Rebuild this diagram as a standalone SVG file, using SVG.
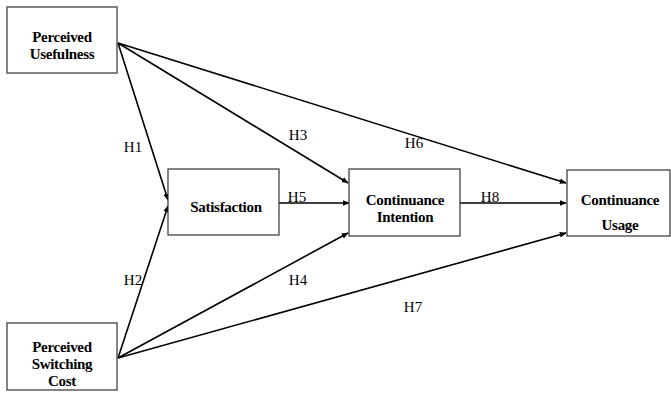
<svg xmlns="http://www.w3.org/2000/svg" width="671" height="393" viewBox="0 0 671 393">
<style>
.box{fill:#fff;stroke:#333;stroke-width:1.2}
.t{font-family:"Liberation Serif","Times New Roman",serif;font-size:15px;font-weight:bold;fill:#000;text-anchor:middle;letter-spacing:-0.3px}
.lbl{font-family:"Liberation Serif","Times New Roman",serif;font-size:15px;fill:#000;text-anchor:middle}
.c{stroke:#000;stroke-width:1.6;fill:none;marker-end:url(#ah)}
</style>
<defs>
<marker id="ah" viewBox="0 0 10 10" refX="9" refY="5" markerWidth="7" markerHeight="7" markerUnits="userSpaceOnUse" orient="auto">
<path d="M0,1 L10,5 L0,9 z" fill="#000"/>
</marker>
</defs>
<g id="connectors">
<line class="c" x1="118" y1="43" x2="168" y2="200"/>
<line class="c" x1="118" y1="358" x2="168" y2="206"/>
<line class="c" x1="118" y1="43" x2="348" y2="183"/>
<line class="c" x1="118" y1="43" x2="566" y2="183"/>
<line class="c" x1="279" y1="203" x2="349" y2="203"/>
<line class="c" x1="460" y1="203" x2="566" y2="203"/>
<line class="c" x1="118" y1="358" x2="348" y2="233"/>
<line class="c" x1="118" y1="358" x2="566" y2="233"/>
<text class="lbl" x="133" y="152">H1</text>
<text class="lbl" x="133" y="285">H2</text>
<text class="lbl" x="298" y="140">H3</text>
<text class="lbl" x="298" y="285">H4</text>
<text class="lbl" x="297" y="202">H5</text>
<text class="lbl" x="414" y="148">H6</text>
<text class="lbl" x="413" y="312">H7</text>
<text class="lbl" x="490" y="202">H8</text>
</g>
<g id="pu">
<rect class="box" x="7" y="7" width="110" height="66"/>
<text class="t" x="62" y="42">Perceived</text>
<text class="t" x="62" y="59">Usefulness</text>
</g>
<g id="psc">
<rect class="box" x="7" y="323" width="110" height="67"/>
<text class="t" x="62" y="352">Perceived</text>
<text class="t" x="62" y="369">Switching</text>
<text class="t" x="62" y="386">Cost</text>
</g>
<g id="sat">
<rect class="box" x="168" y="169" width="111" height="66"/>
<text class="t" x="226" y="212">Satisfaction</text>
</g>
<g id="ci">
<rect class="box" x="349" y="169" width="111" height="67"/>
<text class="t" x="405" y="205">Continuance</text>
<text class="t" x="405" y="222">Intention</text>
</g>
<g id="cu">
<rect class="box" x="567" y="170" width="103" height="66"/>
<text class="t" x="620" y="205">Continuance</text>
<text class="t" x="620" y="230">Usage</text>
</g>
</svg>
